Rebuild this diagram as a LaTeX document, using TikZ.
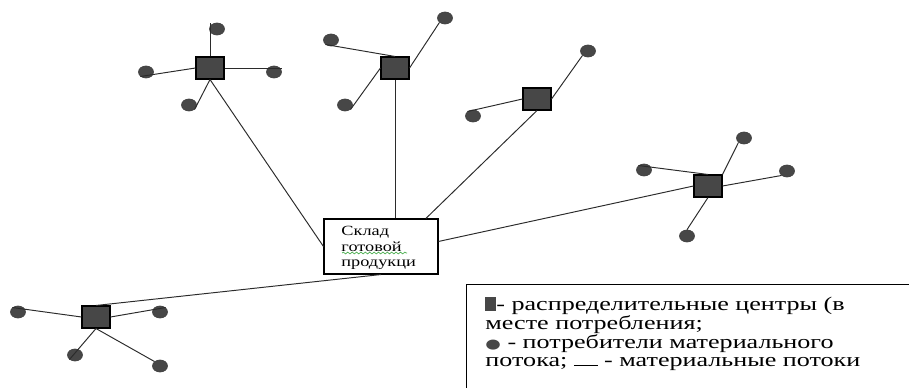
\documentclass[tikz,border=0pt]{standalone}
\usepackage{fontspec}
\setmainfont{Liberation Serif}
\newfontfamily\symbolfont{DejaVu Sans}
\usetikzlibrary{shapes.geometric,decorations.pathmorphing}
\definecolor{centregray}{HTML}{474747}
\definecolor{flowgray}{HTML}{2B2B2B}
\definecolor{spellgreen}{HTML}{4CAF50}

\begin{document}
\begin{tikzpicture}[
  x=0.02cm, y=-0.02cm,
  centre/.style={
    draw=black,
    fill=centregray,
    minimum width=0.56cm,
    minimum height=0.44cm,
    inner sep=0pt,
    line width=0.6pt
  },
  consumer/.style={
    ellipse,
    draw=black!75,
    fill=centregray,
    minimum width=0.30cm,
    minimum height=0.24cm,
    inner sep=0pt,
    line width=0.4pt
  },
  store/.style={
    draw=black,
    fill=white,
    minimum width=2.28cm,
    minimum height=1.10cm,
    inner sep=0pt,
    line width=0.6pt
  },
  flow/.style={
    line width=0.55pt,
    draw=flowgray
  },
  storetext/.style={
    font=\fontsize{8}{8.8}\selectfont,
    align=left,
    inner sep=0pt,
    xscale=1.3,
    transform shape
  },
  legendtext/.style={
    font=\fontsize{11}{10.6}\selectfont,
    align=left,
    inner sep=0pt,
    xscale=1.35,
    transform shape
  }
]
  \useasboundingbox (0,0) rectangle (909,388);
  \clip (0,0) rectangle (909,388);

  % Finished goods warehouse
  \node[store] (store) at (381,246.5) {};
  \node[storetext, anchor=north west] (storetxt) at (341,226) {Склад\\готовой\\продукци};
  \draw[spellgreen, line width=0.4pt, decorate, decoration={snake, amplitude=0.5pt, segment length=2.5pt}]
    (342,253) -- (407,253);

  % --- Distribution centres ---
  \node[centre] (dc1) at (210,68) {};
  \node[centre] (dc2) at (395,68) {};
  \node[centre] (dc3) at (537,99) {};
  \node[centre] (dc4) at (708,186) {};
  \node[centre] (dc5) at (96,317) {};

  % --- Consumers ---
  \node[consumer] (c1a) at (217,29) {};
  \node[consumer] (c1b) at (146,72) {};
  \node[consumer] (c1c) at (274,72) {};
  \node[consumer] (c1d) at (189,105) {};

  \node[consumer] (c2a) at (331,40) {};
  \node[consumer] (c2b) at (445,18) {};
  \node[consumer] (c2c) at (345,105) {};

  \node[consumer] (c3a) at (588,51) {};
  \node[consumer] (c3b) at (473,116) {};

  \node[consumer] (c4a) at (744,138) {};
  \node[consumer] (c4b) at (644,170) {};
  \node[consumer] (c4c) at (787,171) {};
  \node[consumer] (c4d) at (687,236) {};

  \node[consumer] (c5a) at (18,312) {};
  \node[consumer] (c5b) at (160,312) {};
  \node[consumer] (c5c) at (75,355) {};
  \node[consumer] (c5d) at (160,366) {};

  % Material flows: warehouse to centres
  \draw[flow] (dc1.south) -- (store.west);
  \draw[flow] (dc2.south) -- (dc2.south |- store.north);
  \draw[flow] (dc3.south) -- (store.32);
  \draw[flow] (dc4.west) -- (store.5);
  \draw[flow] (dc5.north) -- (store.south);

  % Material flows: centres to consumers
  \draw[flow] (dc1.north) -- (dc1.north |- c1a.north);
  \draw[flow] (dc1.west) -- (c1b.south west);
  \draw[flow] (dc1.east) -- (dc1.east -| c1c.east);
  \draw[flow] (dc1.south) -- (c1d.south east);

  \draw[flow] (dc2.north) -- (c2a.south west);
  \draw[flow] (dc2.east) -- (c2b.south west);
  \draw[flow] (dc2.west) -- (c2c.south east);

  \draw[flow] (dc3.east) -- (c3a.south west);
  \draw[flow] (dc3.west) -- (c3b.north west);

  \draw[flow] (dc4.north east) -- (c4a.south west);
  \draw[flow] (dc4.north) -- (c4b.north west);
  \draw[flow] (dc4.east) -- (c4c.south west);
  \draw[flow] (dc4.south) -- (c4d.north);

  \draw[flow] (dc5.west) -- (c5a.north west);
  \draw[flow] (dc5.east) -- (c5b.north east);
  \draw[flow] (dc5.south) -- (c5c.south west);
  \draw[flow] (dc5.south) -- (c5d.north west);

  % Legend
  \node[draw=black, line width=0.6pt, anchor=north west, minimum width=9.2cm, minimum height=2.4cm, inner sep=0pt] (legend) at (466,284) {};
  \node[legendtext, anchor=north west] (legendtxt) at (485,297) {%
    \textcolor{centregray}{\rule{4.6pt}{7.6pt}}- распределительные центры (в\\
    месте потребления;\\
    {\symbolfont\fontsize{7.5}{7.5}\selectfont\textcolor{centregray}{●}} - потребители материального\\
    потока; \rule[0.6pt]{10pt}{0.5pt} - материальные потоки};

\end{tikzpicture}
\end{document}
